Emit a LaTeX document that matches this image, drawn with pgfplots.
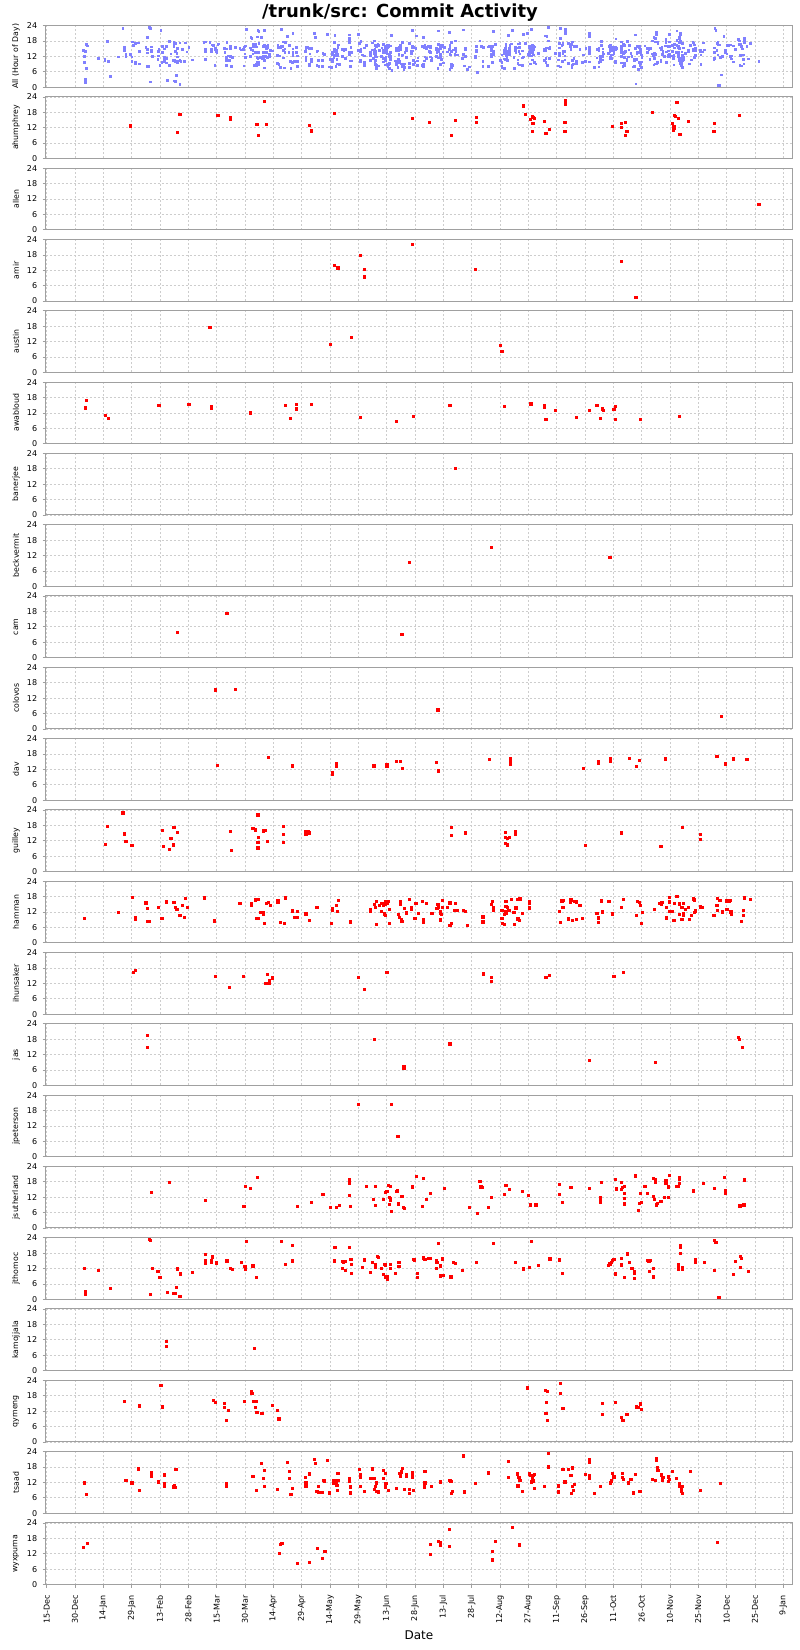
\documentclass[border=0pt]{standalone}
\usepackage{fontspec}
\setmainfont{DejaVu Sans}
\usepackage{pgfplots}
\usepackage{pgfplotstable}
\pgfplotsset{compat=1.18}

\definecolor{framec}{RGB}{160,160,160}
\definecolor{gridc}{RGB}{205,205,205}
\definecolor{bluep}{RGB}{128,128,255}

% x = days since 15-Dec, y = hour of day
\pgfplotstableread{
x y
44.2 12.8
69.1 10.3
70.4 17.3
90.5 16.8
91.0 16.9
97 16.2
97 15.2
111.2 13.5
112 9.0
115.3 22.2
116.1 13.5
139.2 13.1
140 10.8
152.3 17.5
193.4 15.6
202.4 14.1
214.2 9.2
216.2 15.0
227.3 16.1
227.3 14.1
252.4 20.6
253.5 17.2
256 15.2
257.2 16.6
257.4 16.1
258 15.8
257.3 13.7
257 10.7
263.2 14.4
264.2 9.9
266 11.3
274.5 22.7
274.5 22.0
274.5 21.0
274.3 14.1
274.3 10.7
299.4 12.7
304.3 13.7
304.3 12.1
306.4 14.0
306.1 9.2
307.1 10.6
320.5 18.1
331.3 13.9
332 12.5
332 11.7
331.6 11.2
332.3 16.9
332.6 16.5
333.6 22.0
334.4 15.7
335.1 9.4
339.5 14.4
353.4 13.6
353.1 10.7
366.5 16.8
}\Tahumphrey

\pgfplotstableread{
x y
377 10.1
}\Tallen

\pgfplotstableread{
x y
152.3 14.1
154.1 13.0
166.2 18.0
168 12.3
168 9.5
193.4 22.3
227 12.3
304.3 15.6
311.8 1.4
}\Tamir

\pgfplotstableread{
x y
86.3 17.5
150 11.0
161.3 13.6
240.1 10.6
240.9 8.4
}\Taustin

\pgfplotstableread{
x y
20.3 14.0
21.1 16.8
30.8 11.1
32.6 10.0
59.3 15.0
75.2 15.5
87 14.4
87 13.8
107.9 12.1
126.1 15.0
128.9 10.0
132 15.5
132 13.6
140 15.3
165.9 10.2
185.2 8.8
193.9 10.6
213.4 15.0
242.2 14.5
256.3 15.7
256.3 15.4
263.5 14.8
263.5 14.2
264.2 9.6
269.1 13.2
280.2 10.2
287.4 13.2
291.2 14.9
293 10.0
294.3 13.6
294.5 13.1
300.2 13.3
301 14.6
301 9.5
314.3 9.4
334.9 10.8
334.9 10.6
}\Tawabloud

\pgfplotstableread{
x y
216.2 18.1
}\Tbanerjee

\pgfplotstableread{
x y
192.1 9.3
235.2 15.2
298.1 11.3
}\Tbeckvermit

\pgfplotstableread{
x y
69.1 9.8
95.3 17.4
188 9.0
}\Tcam

\pgfplotstableread{
x y
89.1 15.3
99.9 15.6
207 7.5
357 4.9
}\Tcolovos

\pgfplotstableread{
x y
90.1 13.5
117.1 16.6
130.2 13.5
130.2 13.2
151 10.9
151 10.2
153.3 14.2
153.3 13.2
173.1 13.4
173.1 13.2
180 13.9
180 13.2
185.2 15.2
187.2 15.2
188.2 12.6
206.2 14.8
207.2 11.5
234.2 16.0
245.2 16.4
245.2 15.3
245.2 14.0
284 12.6
292.2 15.3
292.2 14.3
298.4 16.4
298.4 15.3
308.4 16.4
313.5 15.5
312.3 13.3
327.4 16.2
354.7 17.1
359.3 14.2
363.6 16.2
370.6 16.0
}\Tdav

\pgfplotstableread{
x y
30.8 10.6
32.1 17.8
40.3 22.9
41.1 14.8
41.1 14.4
41.9 11.9
45 10.2
61.1 16.0
61.9 10.0
64.7 8.7
65.7 13.1
67 10.4
67.3 17.4
67.6 17.2
69.3 15.2
97.1 15.6
97.8 8.3
109.1 16.8
110.2 16.3
111.7 22.1
112.2 21.8
111.9 13.5
111.7 11.3
111.7 9.3
114.8 15.9
115.8 16.1
116.8 11.7
125.1 17.7
125.1 14.5
125.1 11.5
137.1 15.7
138.2 15.7
137.1 14.7
139 15.1
214.2 17.4
214.2 14.0
221.4 15.1
221.4 14.8
242.9 15.3
242.9 13.5
242.9 10.9
244 13.1
244 10.4
245 13.4
248.1 15.6
248.1 14.5
285 10.1
304.3 15.3
304.3 14.8
325.1 10.0
336.4 17.2
346.2 14.5
346.2 12.7
}\Tguilley

\pgfplotstableread{
x y
20 9.6
38 11.9
45.2 17.7
47 9.8
47 9.3
52.4 15.6
53.2 13.4
53.2 8.3
54 8.3
59.1 13.9
60.9 9.6
63.2 16.0
67.3 15.9
68.1 13.9
68.8 13.2
70.4 10.6
71.9 14.7
73 10.1
73.2 17.3
74.2 13.8
83.2 17.6
88.9 8.8
88.9 8.4
102.2 15.3
108.1 15.2
108.1 14.8
110.4 16.8
112.2 17.0
111.2 9.6
112.2 9.6
113.2 11.8
114.8 12.0
114.8 11.3
115 7.6
116.1 15.3
117.1 15.7
118.4 14.5
122.3 16.5
122.3 15.7
126.3 17.6
123.8 7.9
125.8 7.6
130.2 12.5
132.8 12.3
131 10.0
132.8 10.0
137.1 11.3
138.9 8.9
143 13.9
151 13.6
151 12.8
153.3 14.5
154.3 16.5
153.8 12.3
150.7 7.7
160.8 8.2
160.8 8.0
171.3 13.1
171.3 12.3
173.6 15.0
174.1 13.9
174.6 16.1
176.2 14.5
174.6 7.3
177.4 15.4
178.2 14.5
179 15.2
179.5 16.1
180.3 15.6
181 16.1
177.2 12.3
178.5 11.3
179.3 10.7
181.3 13.1
181.3 7.5
186 11.0
186.7 10.0
187.7 9.2
188 8.3
187.2 16.3
187.2 15.0
189.5 13.5
190.3 11.7
191.8 17.0
193.1 13.9
193.1 13.2
194.9 9.6
195.4 15.3
196.5 11.5
199 16.1
199.3 9.2
199.3 8.1
201.1 15.3
203.9 11.5
206.5 13.4
207 15.0
207.5 13.9
208.3 12.2
208.5 11.5
209 11.0
208.3 9.0
209.5 16.5
209.6 13.8
212.1 13.8
213.4 15.6
213.4 7.0
214.2 7.7
216.2 15.3
216 12.8
217.3 12.6
220.6 12.8
221.4 12.2
222.6 6.9
230.9 10.2
230.9 8.2
235.5 15.0
236 16.1
236.3 13.9
236.3 12.8
240.9 12.6
240.9 9.6
241.2 7.6
242.2 7.3
242.2 11.1
243 16.1
243 14.2
243 12.3
243.5 11.6
243.8 14.0
244.5 12.6
245 12.7
245.8 16.9
247.3 11.8
248.3 13.7
247.6 7.3
249.4 16.9
250.4 17.2
249.4 9.4
250.2 8.8
251.9 11.5
255.3 16.1
255.3 15.6
255.3 13.7
271.4 12.3
271.9 8.0
272.7 16.4
273.2 16.5
273.2 13.9
276 9.4
277.1 16.8
277.3 16.0
277.9 16.8
278.1 8.8
280.2 9.3
279.4 16.1
280.2 16.0
282.2 14.8
283.5 9.6
291.2 11.5
292.2 9.8
292.2 8.0
293.5 16.4
294.3 12.1
297.6 16.1
299.2 11.3
304.3 13.9
305.3 16.9
312.8 16.1
313.8 15.9
312.3 10.8
314.3 14.5
315.1 11.8
314.8 7.7
321.5 13.2
324.6 15.4
325.4 14.9
325.6 15.7
327.9 13.8
327.9 9.8
329.5 17.7
329.5 16.0
329.5 12.2
331 12.3
332.3 15.4
332 8.8
333.6 18.2
334.9 15.2
334.9 11.1
336.2 13.8
336.9 15.4
336.9 11.6
336.9 10.7
336.2 9.2
338.2 13.2
339.5 13.8
340.3 9.2
341.3 10.7
342.1 17.4
342.5 17.0
342.8 16.6
343.4 12.5
343 11.8
345.9 13.9
345.9 14.3
347.2 13.8
353.1 10.7
354.7 14.5
355.2 17.4
356.3 16.5
355.2 12.7
357.5 12.1
360 16.4
361.1 16.3
361.8 16.5
360 13.1
362.4 12.3
362.4 11.1
361.8 12.1
367.6 8.4
368.9 12.6
368.9 10.8
369.1 17.6
372.6 17.0
}\Thamman

\pgfplotstableread{
x y
46 16.4
47 17.0
89.1 14.9
96.8 10.4
104 14.7
116.8 15.5
117.8 13.0
118 12.2
116 12.0
119.4 14.2
165.1 14.3
168 9.8
180 16.3
231.1 15.7
235.2 14.4
235.2 12.8
264.2 14.5
266 15.2
300.2 14.7
305.3 16.3
}\Tihunsaker

\pgfplotstableread{
x y
53.4 19.4
53.2 14.9
173.3 18.1
189 7.3
189 6.9
213.4 16.4
213.4 15.9
287.1 9.9
322.3 9.1
366.2 18.8
366.5 18.1
368.3 15.0
}\Tjas

\pgfplotstableread{
x y
165.1 20.6
182.3 20.3
185.9 7.9
}\Tjpeterson

\pgfplotstableread{
x y
55.2 14.1
65 17.8
84 10.8
104.3 8.4
105.3 16.2
107.9 15.4
111.5 19.7
132.8 8.4
140 10.2
146.1 13.3
150 8.0
153.1 8.2
154.9 9.0
160 19.1
160.2 17.8
160 17.5
160 12.9
160.8 8.4
169.2 16.4
172.8 11.2
174.1 16.4
173.8 9.0
178 11.2
179.2 14.1
180 14.4
181 16.6
181.8 16.2
181.3 12.1
182 11.7
181.8 11.0
181.5 9.4
182.6 6.5
185 14.2
185.7 14.5
186.2 9.5
188 12.5
188.8 8.2
189.3 7.7
193.4 16.1
195.7 20.1
199.3 19.4
199 8.6
201.1 11.2
203.1 13.6
210.3 15.6
223.7 8.0
228 5.8
229.3 18.1
229.8 16.1
230.3 16.0
233.7 8.2
235.2 12.0
242.2 13.3
243 16.8
245 15.2
251.9 14.2
255 12.9
256 9.1
258.9 9.1
271.4 17.2
271.4 13.3
273 10.0
277.4 15.8
287.4 15.6
293 12.1
293 10.8
293 10.2
293.5 17.9
301.2 18.9
301.5 15.3
304.3 17.7
304.5 15.8
304.3 15.2
305.6 16.4
305.8 13.5
305.8 11.6
305.8 9.5
311.5 20.4
313 7.0
313.8 9.8
314.8 9.9
314.3 13.7
316.6 16.2
317.9 13.5
321.3 19.5
322 19.1
322 17.7
321 12.4
321.5 11.3
322.6 9.1
323.1 9.6
325.1 10.4
327 12.1
329.2 12.0
327.7 18.7
327.7 17.5
329.2 16.1
329.7 20.6
333.6 16.4
334.4 16.2
334.7 19.7
335 19.1
334.7 17.4
342.3 14.5
342.3 14.8
347.4 17.3
353.4 15.4
358.5 19.9
359.3 14.5
359.3 13.7
366.9 8.7
369.3 18.6
369.1 19.1
369 9.1
}\Tjsutherland

\pgfplotstableread{
x y
20 12.2
20.5 3.0
20.5 2.5
20.5 2.0
27.2 11.4
33.6 4.2
54.2 23.3
54.7 23.0
56 12.0
58.8 10.8
59.8 8.7
54.7 2.1
63.7 2.8
67.3 2.5
68 2.4
68.6 4.6
69.3 11.9
70.9 10.0
70.4 1.2
77 10.7
84 17.7
84 15.0
84 14.0
87 15.0
87 14.6
87.8 16.6
89.9 14.6
89.9 14.0
95.3 15.0
97.3 12.0
98.1 11.7
103 14.6
104.8 13.0
105.3 11.7
105.5 22.7
109.1 13.1
110.9 8.7
124.3 22.6
126.1 13.6
130.2 21.0
130.2 15.0
152.5 20.2
152.3 15.0
156.4 14.9
157.2 14.3
158.2 14.9
156.6 12.2
157.9 11.2
160.2 20.4
161 15.6
161.3 13.7
161.3 10.3
166.9 12.6
168.2 15.4
171.3 10.6
172.3 14.6
173.8 13.6
173.8 12.5
175.4 16.4
175.2 16.8
177.2 12.2
178.8 13.6
179.3 13.5
178 9.9
180 9.0
180.5 8.0
179.2 8.8
182 12.2
181.8 13.6
184.6 10.3
186.4 14.4
186.4 12.8
194.2 15.7
194.5 15.4
196 10.3
196 8.7
199.3 16.2
200.6 15.7
201.9 16.1
203.1 16.1
199.8 15.6
206.2 15.2
206.5 14.4
207.2 22.0
206.2 12.0
208.5 9.2
210 9.5
208.3 13.1
209.6 15.8
213.9 8.8
215.2 14.6
216.5 14.0
220.1 11.2
227.3 14.6
236.5 21.8
248.1 14.6
252.2 11.9
255.3 12.5
256.6 22.6
260.2 13.2
266.3 15.8
271.4 15.4
273 10.2
297.4 13.2
298.1 13.9
298.9 14.5
299.4 15.3
300.2 15.6
301 10.0
304.3 16.0
304.3 13.5
307.4 17.8
308.2 14.6
305.8 8.7
311 10.8
311 10.4
311 8.3
309.7 12.2
317.9 15.2
318.7 14.9
319.5 15.2
319.2 10.8
321.3 12.0
321.3 8.8
334.4 12.5
334.4 11.9
336.4 12.5
336.4 11.7
335.4 21.1
335.4 20.4
335.4 17.9
334.4 13.5
343.3 15.4
343.3 14.4
348.2 14.6
353.6 22.9
354.2 22.3
353.4 11.4
355.7 0.9
355.9 0.7
363.4 9.9
364.4 14.9
367.2 16.8
367.7 16.1
367.2 12.5
371.3 11.1
}\Tjthomoc

\pgfplotstableread{
x y
63.2 11.3
63.2 9.5
109.9 8.7
}\Tkamojjala

\pgfplotstableread{
x y
41.1 15.8
49 14.1
60.4 22.2
61.1 13.7
88.3 16.4
89.1 15.4
94 15.2
94.2 13.6
96.1 12.3
95 8.6
104.5 15.8
108.1 19.6
108.6 19.0
109.4 16.0
110.9 15.8
110.2 13.5
111.2 11.7
113.8 11.2
119.4 14.2
122 12.5
122.5 9.2
122.8 9.0
254.5 21.1
264 20.1
264.8 19.9
271.7 23.0
271.7 19.1
264.5 15.4
273.2 13.2
264.2 11.2
265 8.6
294.3 15.0
301.2 15.6
294 10.7
304.3 9.5
305 8.3
307.1 10.8
312.3 13.7
313 13.5
314.3 14.9
314.6 12.7
}\Tqymeng

\pgfplotstableread{
x y
20 11.9
21.1 7.5
41.9 12.8
45 11.9
48.6 17.3
49 9.1
55.2 15.8
55.2 14.5
59.1 12.3
62.1 15.0
62.1 11.6
62.1 10.4
67.6 10.7
68 10.0
67.3 10.3
68.3 17.0
95 11.6
95 10.4
109.1 14.5
110.9 9.1
113.5 19.5
115 16.6
114.8 13.6
115 10.6
122 9.4
127.4 19.8
128.4 16.4
128.2 13.7
129.2 7.4
129.9 9.6
136.9 13.9
137.1 10.4
139.2 15.4
137.1 11.9
141.5 21.1
142.3 19.5
143 8.5
144 8.2
146 8.2
143.6 10.4
146.4 13.0
146.9 12.7
148.4 20.7
149.7 8.0
152 12.7
152 11.6
153.1 12.3
154.1 13.0
153.6 10.9
153.8 9.1
154.1 15.6
160.8 8.0
160 13.6
160.3 12.7
160.8 10.3
165.4 17.2
166.2 15.0
166 13.9
166 10.6
168.2 8.5
171.3 13.7
172.3 17.3
173.1 13.6
174.4 11.9
174.1 10.6
173.6 9.5
175.4 8.4
174.6 8.6
178.2 16.8
179.2 15.7
178.2 13.5
179.5 11.6
179.2 10.3
181 8.9
185 9.6
186.7 15.7
187.5 16.2
187 14.6
188.2 17.4
189.3 9.2
190.3 15.2
190.3 14.4
191.8 9.2
191.8 7.7
193.4 15.8
193.4 14.2
194.2 9.0
200.1 16.5
200.1 11.9
199.8 10.3
203.4 10.6
208.5 12.3
213.4 12.8
213.9 12.6
214.2 7.7
214.7 8.6
220.6 22.4
221.1 8.4
227 11.6
233.9 15.8
244.3 20.3
244.3 14.0
249.1 15.4
249.9 14.0
250.4 13.0
249.4 10.7
251.9 8.7
255.3 15.4
256 14.8
257.4 14.9
257.9 15.3
256.9 13.6
256.6 12.3
257.4 12.7
258 9.6
263.5 10.4
265.6 23.3
265.6 18.1
270.9 8.4
270.9 10.7
273.2 17.2
276 17.2
278.4 17.7
274.3 12.3
277.4 14.8
278.4 10.6
279.1 11.3
278.6 9.1
277.9 7.8
285.3 15.2
287.4 14.6
287.4 13.6
287.4 21.1
287.4 19.9
289.9 7.8
293 10.6
298.4 11.9
298.9 12.7
300.2 14.2
299.4 15.6
304.5 15.6
304.5 14.0
305.3 13.2
307.9 11.9
309.2 13.2
310.7 8.0
314 8.7
311.5 15.3
320.5 13.1
322 12.9
322.6 21.4
322.6 20.7
323.3 17.7
323.5 16.9
325.4 15.0
326.1 14.0
325.9 12.8
329.2 14.2
329.4 13.1
329.2 12.4
331.3 16.4
333.1 13.7
335 11.5
335 10.6
335.8 9.6
336.3 10.6
335.8 8.5
336.3 7.7
340.6 16.4
346.2 9.0
356.5 11.7
}\Ttsaad

\pgfplotstableread{
x y
19.2 14.4
21.3 16.2
123 12.3
123.8 15.6
124.3 16.0
124.8 16.1
132.8 8.2
138.9 8.7
143.1 14.2
145.7 10.4
147.2 12.9
203.1 15.6
203.1 11.9
207.3 16.8
208.2 16.4
208.2 15.3
213.2 21.4
213.2 14.8
235.9 12.9
235.9 9.7
237.3 16.8
246.3 22.2
250.2 15.5
355.2 16.6
}\Twyxpuma

\pgfplotsset{
  panel/.style={
    scale only axis, width=746.5pt, height=61.6pt,
    xmin=-0.5, xmax=394.7, ymin=0, ymax=24,
    xtick={0,15,...,390}, ytick={0,6,12,18,24},
    xticklabels={}, xtick style={draw=none},
    ytick style={draw=framec, line width=0.6pt},
    major tick length=3pt, tick align=outside,
    xtick pos=lower, ytick pos=left,
    grid=major,
    major grid style={draw=gridc, line width=0.6pt, dash pattern=on 2pt off 2pt},
    axis line style={draw=framec, line width=1pt},
    /pgf/number format/assume math mode=true,
    yticklabel style={font=\fontsize{8}{9}\selectfont},
    yticklabel shift=2pt,
    ylabel style={font=\fontsize{7.8}{9}\selectfont, at={(axis description cs:-0.0398,0.5)}, anchor=center},
  },
  red pts/.style={only marks, mark=square*, mark size=1.1pt, color=red},
  blue pts/.style={only marks, mark=square*, mark size=0.85pt, color=bluep},
}

\newcommand{\panel}[3]{%
  \pgfmathsetmacro{\yb}{1562.8-(#1-1)*71.3}
  \begin{axis}[panel, at={(45.7pt,\yb pt)}, anchor=south west, ylabel={#2}]
    \addplot[red pts] table {#3};
  \end{axis}}

\begin{document}
\begin{tikzpicture}
\useasboundingbox (0pt,0pt) rectangle (800pt,1650pt);
\node[anchor=base, font=\bfseries\fontsize{18}{21}\selectfont] at (400pt,1632pt) {/trunk/src: Commit Activity};

\begin{axis}[panel, at={(45.7pt,1562.8pt)}, anchor=south west, ylabel={All (Hour of Day)}]
  \addplot[blue pts] table {\Tahumphrey};
  \addplot[blue pts] table {\Tallen};
  \addplot[blue pts] table {\Tamir};
  \addplot[blue pts] table {\Taustin};
  \addplot[blue pts] table {\Tawabloud};
  \addplot[blue pts] table {\Tbanerjee};
  \addplot[blue pts] table {\Tbeckvermit};
  \addplot[blue pts] table {\Tcam};
  \addplot[blue pts] table {\Tcolovos};
  \addplot[blue pts] table {\Tdav};
  \addplot[blue pts] table {\Tguilley};
  \addplot[blue pts] table {\Thamman};
  \addplot[blue pts] table {\Tihunsaker};
  \addplot[blue pts] table {\Tjas};
  \addplot[blue pts] table {\Tjpeterson};
  \addplot[blue pts] table {\Tjsutherland};
  \addplot[blue pts] table {\Tjthomoc};
  \addplot[blue pts] table {\Tkamojjala};
  \addplot[blue pts] table {\Tqymeng};
  \addplot[blue pts] table {\Ttsaad};
  \addplot[blue pts] table {\Twyxpuma};
\end{axis}

\panel{2}{ahumphrey}{\Tahumphrey}
\panel{3}{allen}{\Tallen}
\panel{4}{amir}{\Tamir}
\panel{5}{austin}{\Taustin}
\panel{6}{awabloud}{\Tawabloud}
\panel{7}{banerjee}{\Tbanerjee}
\panel{8}{beckvermit}{\Tbeckvermit}
\panel{9}{cam}{\Tcam}
\panel{10}{colovos}{\Tcolovos}
\panel{11}{dav}{\Tdav}
\panel{12}{guilley}{\Tguilley}
\panel{13}{hamman}{\Thamman}
\panel{14}{ihunsaker}{\Tihunsaker}
\panel{15}{jas}{\Tjas}
\panel{16}{jpeterson}{\Tjpeterson}
\panel{17}{jsutherland}{\Tjsutherland}
\panel{18}{jthomoc}{\Tjthomoc}
\panel{19}{kamojjala}{\Tkamojjala}
\panel{20}{qymeng}{\Tqymeng}
\panel{21}{tsaad}{\Ttsaad}

\begin{axis}[panel, at={(45.7pt,65.5pt)}, anchor=south west, ylabel={wyxpuma},
  xtick style={draw=framec, line width=0.6pt},
  xticklabels={15-Dec,30-Dec,14-Jan,29-Jan,13-Feb,28-Feb,15-Mar,30-Mar,14-Apr,29-Apr,14-May,29-May,13-Jun,28-Jun,13-Jul,28-Jul,12-Aug,27-Aug,11-Sep,26-Sep,11-Oct,26-Oct,10-Nov,25-Nov,10-Dec,25-Dec,9-Jan},
  xticklabel style={font=\fontsize{8}{9}\selectfont, rotate=90, anchor=east},
  xticklabel shift=4pt,
  xlabel={Date},
  xlabel style={font=\fontsize{12}{14}\selectfont, at={(axis description cs:0.5,-0.831)}, anchor=center}]
  \addplot[red pts] table {\Twyxpuma};
\end{axis}
\end{tikzpicture}
\end{document}
